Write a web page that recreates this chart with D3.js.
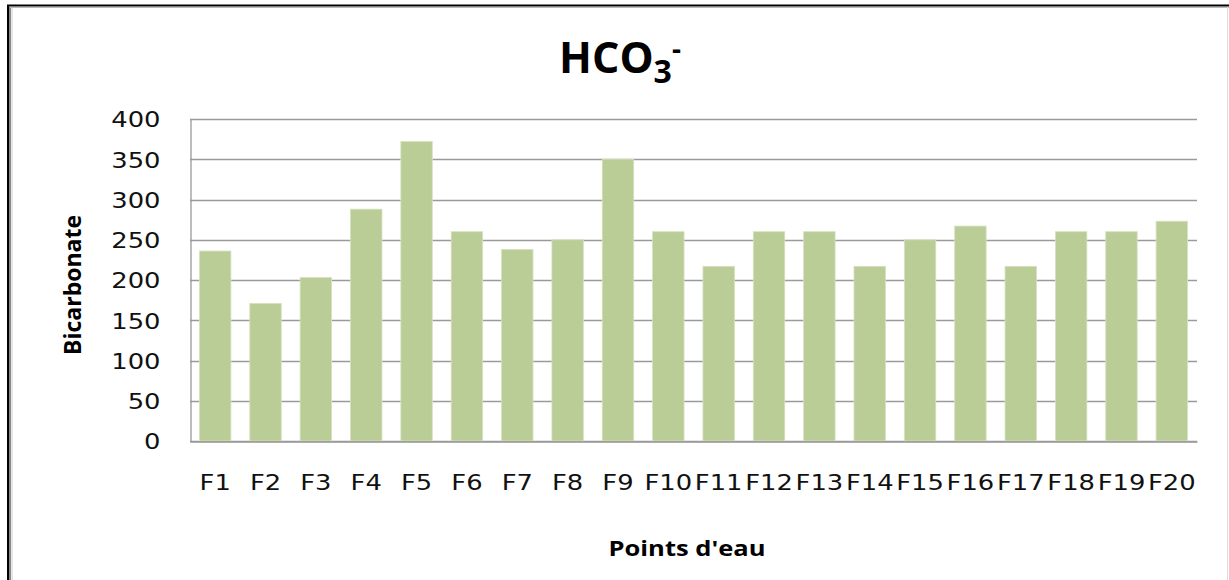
<!DOCTYPE html>
<html>
<head>
<meta charset="utf-8">
<script src="https://cdn.jsdelivr.net/npm/d3@7"></script>
<style>
  html, body { margin: 0; padding: 0; background: #fff; }
  svg { display: block; }
</style>
</head>
<body>
<svg id="chart" width="1229" height="580"></svg>
<script>
const categories = ["F1","F2","F3","F4","F5","F6","F7","F8","F9","F10","F11","F12","F13","F14","F15","F16","F17","F18","F19","F20"];
const bicarbonate = [236,171,203,288,372,260,238,250,350,260,217,260,260,217,250,267,217,260,260,273];
const yTicks = [0,50,100,150,200,250,300,350,400];
const titleMain = "HCO";
const titleSub = "3";
const titleSup = "-";
const yTitle = "Bicarbonate";
const xTitle = "Points d'eau";

const svg = d3.select("#chart");
const W = 1229, H = 580;
const plot = {left: 190, right: 1197, top: 119, bottom: 441};

// frame
svg.append("rect").attr("x",0).attr("y",0).attr("width",W).attr("height",H).attr("fill","#fff");
svg.append("line").attr("x1",7).attr("x2",W).attr("y1",5.5).attr("y2",5.5).attr("stroke","#000").attr("stroke-width",2);
svg.append("line").attr("x1",8).attr("x2",8).attr("y1",5).attr("y2",H).attr("stroke","#000").attr("stroke-width",2);
svg.append("line").attr("x1",10).attr("x2",10).attr("y1",7).attr("y2",H).attr("stroke","#888").attr("stroke-width",2);
svg.append("line").attr("x1",12).attr("x2",12).attr("y1",8).attr("y2",H).attr("stroke","#ccc").attr("stroke-width",1);
svg.append("line").attr("x1",10).attr("x2",W).attr("y1",7.5).attr("y2",7.5).attr("stroke","#bbb").attr("stroke-width",1);
svg.append("line").attr("x1",1227.5).attr("x2",1227.5).attr("y1",7).attr("y2",H).attr("stroke","#ddd").attr("stroke-width",1);

const x = d3.scaleBand().domain(categories).range([plot.left, plot.right]).paddingInner(0.375).paddingOuter(0.1875);
const y = d3.scaleLinear().domain([0,400]).range([plot.bottom, plot.top]);

// gridlines
svg.append("g").selectAll("line").data(yTicks).join("line")
  .attr("x1", plot.left).attr("x2", plot.right)
  .attr("y1", d => Math.round(y(d)) + 0.5).attr("y2", d => Math.round(y(d)) + 0.5)
  .attr("stroke", "#9a9a9a").attr("stroke-width", 1.3);

// bars
svg.append("g").selectAll("rect").data(bicarbonate).join("rect")
  .attr("x", (d,i) => x(categories[i]))
  .attr("width", x.bandwidth())
  .attr("y", d => y(d))
  .attr("height", d => y(0) - y(d))
  .attr("fill", "#bacd97")
  .attr("stroke", "#d6e2c0").attr("stroke-width", 0.8);

// y axis
const yAxis = svg.append("g").attr("transform", `translate(${plot.left + 0.5},0)`)
  .call(d3.axisLeft(y).tickValues(yTicks).tickSize(0).tickPadding(0));
yAxis.select(".domain").attr("stroke","#9a9a9a").attr("stroke-width",1.3);
yAxis.selectAll("text")
  .attr("x", -25).attr("dy","0.36em")
  .attr("transform","scale(1.2,1)")
  .style("font-family","'DejaVu Sans', Verdana, sans-serif")
  .style("font-size","21.5px").attr("fill","#111");

// x axis
const xAxis = svg.append("g").attr("transform", `translate(0,${Math.round(y(0)) + 0.5})`)
  .call(d3.axisBottom(x).tickSize(0).tickPadding(0));
xAxis.select(".domain").attr("stroke","#9a9a9a").attr("stroke-width",1.3);
xAxis.selectAll("text")
  .attr("y", 49).attr("dy", 0)
  .attr("transform","scale(1.2,1)")
  .style("font-family","'DejaVu Sans', Verdana, sans-serif")
  .style("font-size","21.5px").attr("fill","#111");

// title
const t = svg.append("text").attr("x", 620).attr("y", 73).attr("text-anchor","middle")
  .style("font-family","'Open Sans', sans-serif").style("font-weight","bold").attr("fill","#000");
t.append("tspan").style("font-size","43px").text(titleMain);
t.append("tspan").attr("dy", 10).style("font-size","32px").text(titleSub);
t.append("tspan").attr("dy", -24).style("font-size","28px").text(titleSup);

// axis titles
svg.append("text").attr("transform","translate(81,285) rotate(-90)")
  .attr("text-anchor","middle")
  .attr("textLength", 140).attr("lengthAdjust","spacingAndGlyphs")
  .style("font-family","'Open Sans', sans-serif").style("font-weight","bold").style("font-size","24px")
  .attr("fill","#000").text(yTitle);

svg.append("text").attr("x", 687).attr("y", 556).attr("text-anchor","middle")
  .attr("textLength", 157).attr("lengthAdjust","spacingAndGlyphs")
  .style("font-family","'Open Sans', sans-serif").style("font-weight","bold").style("font-size","22px")
  .attr("fill","#000").text(xTitle);
</script>
</body>
</html>
